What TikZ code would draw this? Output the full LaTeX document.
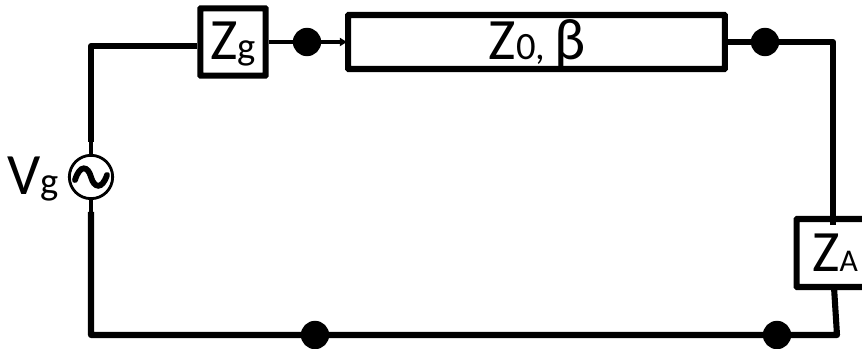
\documentclass[tikz,border=0pt]{standalone}
\usepackage{fontspec}
\setmainfont{Carlito}
\usetikzlibrary{arrows.meta}
\newcommand{\mainsize}{\fontsize{50}{54}\selectfont}
\newcommand{\lowsize}{\fontsize{33}{36}\selectfont}
\newcommand{\tinysize}{\fontsize{27}{30}\selectfont}
\tikzset{
	wire/.style={black,line width=5.2pt,line join=round},
	thinwire/.style={black,line width=3pt},
	boxnode/.style={rectangle,draw=black,fill=white,line width=5.2pt,rounded corners=0.5pt,inner sep=0pt,text=black},
	dotnode/.style={circle,fill=black,inner sep=0pt,minimum size=0.85cm}
}

\begin{document}
\begin{tikzpicture}[x=0.03cm,y=-0.03cm]
	\useasboundingbox (0,0) rectangle (862,349);
	\coordinate (corner1) at (91,46);
	\coordinate (corner2) at (833,42);
	\coordinate (corner3) at (837,335);
	\coordinate (corner4) at (91,335);
	\coordinate (up) at (91,142);
	\coordinate (down) at (91,212);
	\coordinate (linein) at (348,42);

	% wires first, boxes and dots on top
	\node[circle,draw=black,line width=2.4pt,minimum size=1.3cm,inner sep=0pt] (Vs) at (91,177) {};
	\node[boxnode,minimum width=1.96cm,minimum height=2.02cm] (Zg) at (233,42) {};
	\node[boxnode,minimum width=11.3cm,minimum height=1.62cm] (Line) at (536.5,42) {};
	\node[boxnode,minimum width=2.3cm,minimum height=2.04cm] (ZA) at (835,253) {};
	\node[dotnode] (d1) at (307,42) {};
	\node[dotnode] (d2) at (765,42) {};
	\node[dotnode] (d3) at (315,335) {};
	\node[dotnode] (d4) at (777,335) {};

	\draw[wire] (Zg.west |- corner1) -- (corner1) -- (up);
	\draw[thinwire] (up) -- (Vs.north);
	\draw[thinwire] (Vs.south) -- (down);
	\draw[wire] (down) -- (corner4) -- (corner3) -- (834,287);
	\draw[wire] (Line.east) -- (corner2) -- (833,225);
	\draw[line width=4.2pt] (Zg.east) -- (d1);
	\draw[line width=2.8pt,-{Latex[length=7pt,width=8pt]}] (d1) -- (linein);

	\draw[black,line width=5pt,line cap=round] (75,180) .. controls (80,164) and (88,166) .. (91,177) .. controls (94,188) and (102,190) .. (107,175);

	\node[inner sep=0pt,anchor=base] (ZgText) at (233,60) {\mainsize Z\lowsize g};
	\node[inner sep=0pt,anchor=base] (LineText) at (537,60) {\mainsize Z\lowsize 0, \mainsize β};
	\node[inner sep=0pt,anchor=base west] (ZAText) at (812,272) {\mainsize Z\tinysize A};
	\node[inner sep=0pt,anchor=base] (VgText) at (33,195) {\mainsize V\lowsize g};
\end{tikzpicture}
\end{document}
